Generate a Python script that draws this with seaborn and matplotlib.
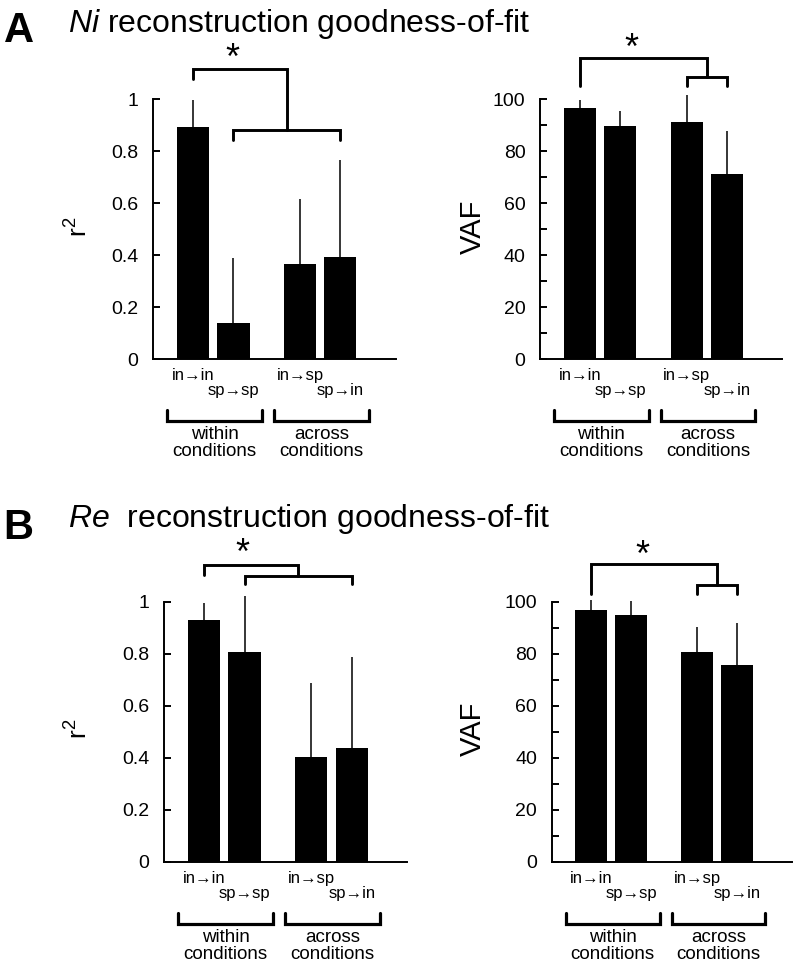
import numpy as np
import pandas as pd
import matplotlib
matplotlib.use("Agg")
import matplotlib.pyplot as plt
import matplotlib.transforms as mtransforms
from matplotlib.ticker import MultipleLocator, FixedLocator
import seaborn as sns

# ---------------- data ----------------
conditions = ["in→in", "sp→sp", "in→sp", "sp→in"]
groups = ["within", "within", "across", "across"]
slots = ["first", "second", "first", "second"]
group_labels = {"within": "within\nconditions", "across": "across\nconditions"}

ni_r2_mean = [0.893, 0.140, 0.364, 0.392]
ni_r2_sd = [0.106, 0.247, 0.254, 0.373]
ni_vaf_mean = [96.7, 89.9, 91.4, 71.2]
ni_vaf_sd = [2.9, 5.7, 10.3, 16.5]
re_r2_mean = [0.931, 0.807, 0.401, 0.436]
re_r2_sd = [0.063, 0.215, 0.285, 0.352]
re_vaf_mean = [96.8, 95.0, 80.8, 75.5]
re_vaf_sd = [3.8, 5.1, 9.3, 16.2]

r2_ticks = [0, 0.2, 0.4, 0.6, 0.8, 1.0]
r2_ticklabels = ["0", "0.2", "0.4", "0.6", "0.8", "1"]
vaf_ticks = [0, 20, 40, 60, 80, 100]
vaf_ticklabels = ["0", "20", "40", "60", "80", "100"]

# ---------------- style ----------------
sns.set_theme(style="white")
FONT = ["Liberation Sans", "DejaVu Sans"]
plt.rcParams["font.family"] = FONT
plt.rcParams["mathtext.fontset"] = "custom"
plt.rcParams["mathtext.rm"] = "Liberation Sans"
plt.rcParams["mathtext.it"] = "Liberation Sans:italic"
plt.rcParams["axes.edgecolor"] = "black"
plt.rcParams["text.color"] = "black"
plt.rcParams["axes.labelcolor"] = "black"
plt.rcParams["xtick.color"] = "black"
plt.rcParams["ytick.color"] = "black"

W, H = 796, 965
fig = plt.figure(figsize=(W / 100, H / 100), dpi=100)


def px_axes(left, right, y0, y1):
    # left/right x pixel, y0 = pixel of value 0 (bottom), y1 = pixel of top
    return [left / W, 1 - y0 / H, (right - left) / W, (y0 - y1) / H]


LW = 2.1
STAR_FS = 26


def draw_panel(ax, means, sds, ylabel, ymax, ticks, ticklabels, minor, ylab_x,
               sig, label_fs):
    df = pd.DataFrame({"condition": conditions, "group": groups,
                       "slot": slots, "value": means})
    sns.barplot(data=df, x="group", y="value", hue="slot",
                order=["within", "across"], hue_order=["first", "second"],
                palette=["black", "black"], saturation=1, width=0.757,
                gap=0.207, errorbar=None, legend=False, linewidth=0, ax=ax)
    bars = sorted(ax.patches, key=lambda p: p.get_x())
    xs = [b.get_x() + b.get_width() / 2 for b in bars]
    eb = ax.errorbar(xs, means, yerr=[np.zeros(len(sds)), sds], fmt="none",
                     ecolor="black", elinewidth=1.1, capsize=0, zorder=1)
    for c in eb.lines[2]:
        c.set_clip_on(False)

    ax.set_xlim(-0.563, 1.706)
    ax.set_ylim(0, ymax)
    for s in ["top", "right"]:
        ax.spines[s].set_visible(False)
    for s in ["left", "bottom"]:
        ax.spines[s].set_linewidth(1.4)
        ax.spines[s].set_color("black")
    ax.set_xlabel("")
    ax.set_xticks([])
    ax.yaxis.set_major_locator(FixedLocator(ticks))
    ax.set_yticklabels(ticklabels)
    if minor:
        ax.yaxis.set_minor_locator(MultipleLocator(minor))
    ax.tick_params(axis="y", which="both", direction="in", length=5.2,
                   width=1.4, labelsize=14, pad=10.5, left=True)
    ax.set_ylabel(ylabel, fontsize=label_fs)
    ax.yaxis.label.set_va("center")
    ax.yaxis.set_label_coords(ylab_x, 0.51)

    # condition labels under bars
    tr = mtransforms.blended_transform_factory(ax.transData, ax.transAxes)
    h_ax = ax.get_position().height * H
    for i, (x, lab) in enumerate(zip(xs, conditions)):
        off = 21 if slots[i] == "first" else 36
        ax.text(x, -off / h_ax, lab, transform=tr, ha="center",
                va="baseline", fontsize=12)
    # group brackets
    for gi, g in enumerate(["within", "across"]):
        xa, xb = gi - 0.43, gi + 0.455
        ya, yb = -51 / h_ax, -62 / h_ax
        ax.plot([xa, xa, xb, xb], [ya, yb, yb, ya], transform=tr,
                color="black", lw=2.3, clip_on=False,
                solid_joinstyle="miter")
        ax.text(gi + 0.012, -67 / h_ax, group_labels[g], transform=tr,
                ha="center", va="top", fontsize=13.5, linespacing=1.0)

    # significance brackets
    lo_i, hi_i = sig["lower"]
    xl0, xl1 = xs[lo_i], xs[hi_i]
    xm = (xl0 + xl1) / 2
    ax.plot([xl0, xl0, xl1, xl1],
            [sig["low_end"], sig["low"], sig["low"], sig["low_end"]],
            color="black", lw=LW, clip_on=False, solid_joinstyle="miter")
    ax.plot([xs[0], xs[0], xm, xm],
            [sig["top_end"], sig["top"], sig["top"], sig["low"]],
            color="black", lw=LW, clip_on=False, solid_joinstyle="miter")
    ax.annotate("*", xy=(sig["star_x"], sig["star_y"]),
                xytext=(0, -0.45 * STAR_FS), textcoords="offset points",
                ha="center", va="baseline", fontsize=STAR_FS,
                annotation_clip=False)


# panel A left
axA1 = fig.add_axes(px_axes(153, 395.7, 359, 99.3))
draw_panel(axA1, ni_r2_mean, ni_r2_sd, "r$^2$", 1.0, r2_ticks, r2_ticklabels,
           None, -0.305,
           dict(lower=(1, 3), top=1.115, top_end=1.077, low=0.881,
                low_end=0.842, star_x=0.18, star_y=1.18), 19)
# panel A right
axA2 = fig.add_axes(px_axes(540, 782, 359, 99.3))
draw_panel(axA2, ni_vaf_mean, ni_vaf_sd, "VAF", 100, vaf_ticks,
           vaf_ticklabels, 10, -0.277,
           dict(lower=(2, 3), top=116.0, top_end=105.0, low=108.5,
                low_end=105.0, star_x=0.294, star_y=121.9), 21)
# panel B left
axB1 = fig.add_axes(px_axes(164, 407, 861.7, 601.7))
draw_panel(axB1, re_r2_mean, re_r2_sd, "r$^2$", 1.0, r2_ticks, r2_ticklabels,
           None, -0.35,
           dict(lower=(1, 3), top=1.141, top_end=1.103, low=1.099,
                low_end=1.068, star_x=0.169, star_y=1.207), 19)
# panel B right
axB2 = fig.add_axes(px_axes(551.7, 792, 861.7, 601.7))
draw_panel(axB2, re_vaf_mean, re_vaf_sd, "VAF", 100, vaf_ticks,
           vaf_ticklabels, 10, -0.328,
           dict(lower=(2, 3), top=114.4, top_end=103.0, low=106.4,
                low_end=103.0, star_x=0.29, star_y=119.9), 21)

# titles
fig.text(4 / W, 1 - 42 / H, "A", fontsize=30, fontweight="bold",
         ha="left", va="baseline")
fig.text(68 / W, 1 - 32 / H, r"$\it{Ni}$ reconstruction goodness-of-fit",
         fontsize=23, ha="left", va="baseline")
fig.text(3 / W, 1 - 539 / H, "B", fontsize=30, fontweight="bold",
         ha="left", va="baseline")
fig.text(68 / W, 1 - 527 / H, r"$\it{Re}$  reconstruction goodness-of-fit",
         fontsize=23, ha="left", va="baseline")

fig.savefig("out.png", dpi=100, facecolor="white")
